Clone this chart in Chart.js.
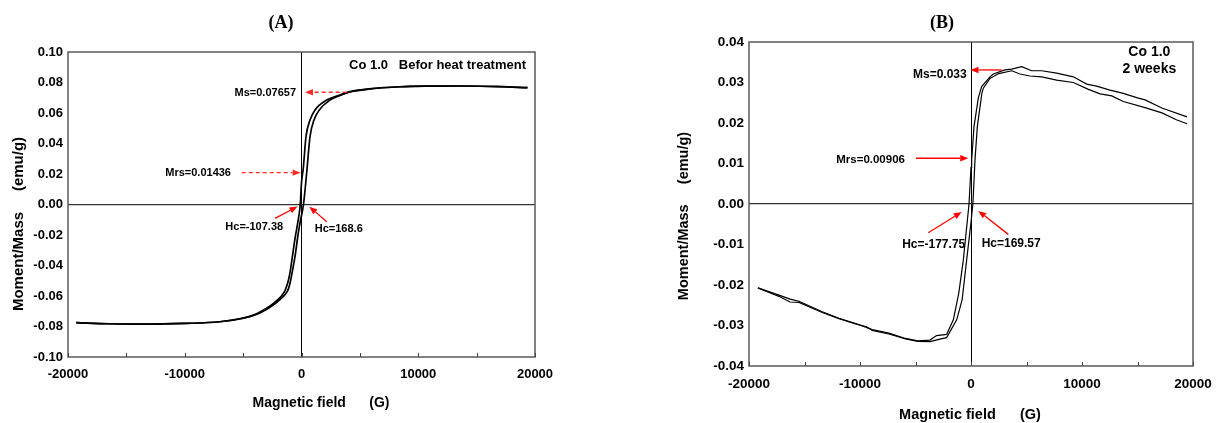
<!DOCTYPE html>
<html><head><meta charset="utf-8">
<script src="https://cdn.jsdelivr.net/npm/chart.js@4/dist/chart.umd.min.js"></script>
<style>
html,body{margin:0;padding:0;background:#fff;width:1216px;height:423px;overflow:hidden}
.box{position:absolute;top:0;width:608px;height:423px}
</style></head><body>
<div class="box" style="left:0"><canvas id="cA"></canvas></div>
<div class="box" style="left:608px"><canvas id="cB"></canvas></div>
<script>
// ---------- Panel A : Co 1.0 before heat treatment ----------
const fieldA_down  = [-19300,-16500,-13500,-10000,-7000,-5000,-4000,-3000,-2400,-1800,-1600,-1413,-1250,-1100,-950,-814,-550,-325,-107.38,0,150,385,730,1160,2160,3300,4150,6000,8440,11000,14000,17000,19360];
const momentA_down = [-0.0775,-0.0782,-0.0785,-0.0780,-0.0769,-0.0745,-0.0722,-0.0680,-0.0648,-0.0607,-0.0588,-0.0565,-0.0530,-0.0490,-0.0430,-0.0360,-0.0220,-0.0121,0,0.01436,0.0235,0.0445,0.0554,0.0620,0.0685,0.0718,0.0740,0.0760,0.0772,0.0776,0.0777,0.0773,0.0766];
const fieldA_up    = [-19300,-16500,-13500,-10000,-7000,-5000,-4000,-3000,-2400,-1800,-1400,-1130,-950,-800,-557,-300,-128,168.6,440,730,1070,1525,2440,3300,4150,6000,8440,11000,14000,17000,19360];
const momentA_up   = [-0.0775,-0.0782,-0.0785,-0.0780,-0.0769,-0.0746,-0.0725,-0.0688,-0.0658,-0.0620,-0.0590,-0.0555,-0.0505,-0.0445,-0.0342,-0.0200,-0.0121,0,0.0205,0.0445,0.0554,0.0620,0.0685,0.0715,0.0738,0.0759,0.0772,0.0776,0.0777,0.0773,0.0766];

// ---------- Panel B : Co 1.0 2 weeks ----------
const fieldB_down  = [-19200,-17300,-16300,-15500,-13400,-11900,-10400,-8900,-7400,-5900,-4800,-3700,-3100,-2200,-1590,-1100,-690,-177.75,0,60,270,660,960,1710,2010,3060,3670,4570,5470,6370,7720,9220,10420,11320,12520,13720,15000,15680,17200,19460];
const momentB_down = [-0.0207,-0.0225,-0.0235,-0.0240,-0.0266,-0.0282,-0.0295,-0.0310,-0.0319,-0.0332,-0.0338,-0.0336,-0.0325,-0.0322,-0.0286,-0.0220,-0.0138,0,0.00906,0.0109,0.0191,0.0262,0.0290,0.0314,0.0321,0.0331,0.0333,0.0339,0.0329,0.0329,0.0323,0.0314,0.0296,0.0291,0.0281,0.0273,0.0262,0.0257,0.0237,0.0215];
const fieldB_up    = [-19200,-17300,-16300,-15500,-13400,-11900,-10400,-9400,-8900,-7400,-5900,-4800,-3700,-2700,-2200,-1290,-800,-390,0,169.57,360,570,980,1110,1710,2500,3670,4410,5310,6370,7720,9220,10580,11630,12680,13720,15680,17200,18500,19460];
const momentB_up   = [-0.0207,-0.0228,-0.0242,-0.0243,-0.0268,-0.0283,-0.0296,-0.0303,-0.0312,-0.0321,-0.0333,-0.0339,-0.0340,-0.0333,-0.0330,-0.0286,-0.0237,-0.0138,-0.0045,0,0.0109,0.0191,0.0273,0.0286,0.0310,0.0322,0.0329,0.0321,0.0316,0.0314,0.0306,0.0300,0.0283,0.0272,0.0267,0.0253,0.0238,0.0225,0.0208,0.0198];

// annotation texts (data coordinates)
const notesA = [
  {t:'Co 1.0   Befor heat treatment', x:19230, y:0.0915, align:'right', size:13},
  {t:'Ms=0.07657', x:-470, y:0.0729, align:'right', size:11},
  {t:'Mrs=0.01436', x:-6040, y:0.0205, align:'right', size:11},
  {t:'Hc=-107.38', x:-4050, y:-0.0150, align:'center', size:11},
  {t:'Hc=168.6', x:3190, y:-0.0161, align:'center', size:11}
];
const arrowsA = [
  {x1:3870, y1:0.0736, x2:300, y2:0.0736, dashed:true},
  {x1:-5120, y1:0.0209, x2:-70, y2:0.0209, dashed:true},
  {x1:-2270, y1:-0.0091, x2:-340, y2:-0.0013, dashed:false},
  {x1:2160, y1:-0.0113, x2:670, y2:-0.0014, dashed:false}
];
const notesB = [
  {t:'Co 1.0', x:16070, y:0.0374, align:'center', size:14},
  {t:'2 weeks', x:16070, y:0.0333, align:'center', size:14},
  {t:'Ms=0.033', x:-390, y:0.0319, align:'right', size:12},
  {t:'Mrs=0.00906', x:-5950, y:0.0109, align:'right', size:11.5},
  {t:'Hc=-177.75', x:-3360, y:-0.0101, align:'center', size:12},
  {t:'Hc=169.57', x:3620, y:-0.0097, align:'center', size:12}
];
const arrowsB = [
  {x1:2770, y1:0.0331, x2:-45, y2:0.0331, dashed:false},
  {x1:-4955, y1:0.0113, x2:-245, y2:0.0113, dashed:false},
  {x1:-3850, y1:-0.0071, x2:-840, y2:-0.0020, dashed:false},
  {x1:3360, y1:-0.0075, x2:660, y2:-0.0017, dashed:false}
];

const SANS = '"Liberation Sans", Arial, sans-serif';
const pts = (xs, ys) => xs.map((v,i)=>({x:v, y:ys[i]}));

function drawArrow(ctx, x1,y1,x2,y2,dashed){
  const col = dashed ? '#ff2a2a' : '#ff0000';
  const ang = Math.atan2(y2-y1, x2-x1), L=8, W=3.2;
  const bx = x2 - L*Math.cos(ang), by = y2 - L*Math.sin(ang);
  ctx.strokeStyle=col; ctx.fillStyle=col; ctx.lineWidth=1.3;
  ctx.setLineDash(dashed ? [4,3] : []);
  ctx.beginPath(); ctx.moveTo(x1,y1); ctx.lineTo(bx,by); ctx.stroke();
  ctx.setLineDash([]);
  ctx.beginPath(); ctx.moveTo(x2,y2);
  ctx.lineTo(bx - W*Math.sin(ang), by + W*Math.cos(ang));
  ctx.lineTo(bx + W*Math.sin(ang), by - W*Math.cos(ang));
  ctx.closePath(); ctx.fill();
}

function decoPlugin(c){
  return {
    id:'deco',
    afterDraw(chart){
      const {ctx, chartArea:a} = chart;
      const xs = chart.scales.x, ys = chart.scales.y;
      ctx.save();
      // frame
      ctx.strokeStyle='#5a5a5a'; ctx.lineWidth=1.5;
      ctx.strokeRect(a.left, a.top, a.right-a.left, a.bottom-a.top);
      // inward ticks on x axis
      ctx.strokeStyle='#444'; ctx.lineWidth=1;
      xs.ticks.forEach(t=>{
        const px = Math.round(xs.getPixelForValue(t.value))+0.5;
        ctx.beginPath(); ctx.moveTo(px, a.bottom); ctx.lineTo(px, a.bottom-4); ctx.stroke();
      });
      ctx.fillStyle='#000';
      // panel title
      ctx.font = 'bold 18px "Liberation Serif", "Times New Roman", serif';
      ctx.textAlign='center'; ctx.textBaseline='middle';
      ctx.fillText(c.panel, c.panelX, c.panelY);
      // x title
      ctx.font = 'bold '+c.xTitleSize+'px '+SANS;
      ctx.fillText('Magnetic field      (G)', c.xTitleX, c.xTitleY);
      // y title
      ctx.save();
      ctx.translate(c.yTitleX, c.yTitleY); ctx.rotate(-Math.PI/2);
      ctx.font = 'bold '+c.yTitleSize+'px '+SANS;
      ctx.fillText('Moment/Mass     (emu/g)', 0, 0);
      ctx.restore();
      // annotation texts
      c.notes.forEach(n=>{
        ctx.font = 'bold '+n.size+'px '+SANS;
        ctx.textAlign = n.align; ctx.textBaseline='middle'; ctx.fillStyle='#000';
        ctx.fillText(n.t, xs.getPixelForValue(n.x), ys.getPixelForValue(n.y));
      });
      c.arrows.forEach(r=>{
        drawArrow(ctx, xs.getPixelForValue(r.x1), ys.getPixelForValue(r.y1),
                       xs.getPixelForValue(r.x2), ys.getPixelForValue(r.y2), r.dashed);
      });
      ctx.restore();
    }
  };
}

function makeChart(id, c){
  return new Chart(document.getElementById(id), {
    type:'scatter',
    data:{datasets:[
      {data:pts(c.f1,c.m1), showLine:true, pointRadius:0, borderColor:'#000', borderWidth:c.lw, cubicInterpolationMode:c.mono?'monotone':'default', tension:0},
      {data:pts(c.f2,c.m2), showLine:true, pointRadius:0, borderColor:'#000', borderWidth:c.lw, cubicInterpolationMode:c.mono?'monotone':'default', tension:0}
    ]},
    options:{
      responsive:true, maintainAspectRatio:false, animation:false, devicePixelRatio:1,
      layout:{padding:{top:c.padTop, right:c.padRight, left:0, bottom:0}},
      plugins:{legend:{display:false}, tooltip:{enabled:false}},
      scales:{
        x:{type:'linear', min:-20000, max:20000,
           afterFit:s=>{s.height=c.xH; s.paddingLeft=0; s.paddingRight=0;},
           border:{display:false},
           grid:{drawTicks:false, lineWidth:1, color:ctx=>ctx.tick && ctx.tick.value===0 ? '#000' : 'rgba(0,0,0,0)'},
           ticks:{stepSize:5000, autoSkip:false, maxRotation:0, padding:10, color:'#000',
                  font:{family:SANS, weight:'bold', size:c.tickSize},
                  callback:v=> (v % 10000 === 0) ? String(v) : ''}},
        y:{type:'linear', min:c.ymin, max:c.ymax,
           afterFit:s=>{s.width=c.yW;},
           border:{display:false},
           grid:{drawTicks:false, lineWidth:1.2, color:ctx=>ctx.tick && Math.abs(ctx.tick.value)<1e-9 ? '#333' : 'rgba(0,0,0,0)'},
           ticks:{stepSize:c.ystep, padding:5, color:'#000',
                  font:{family:SANS, weight:'bold', size:c.tickSize},
                  callback:v=> Math.abs(v)<1e-9 ? '0.00' : v.toFixed(2)}}
      }
    },
    plugins:[decoPlugin(c)]
  });
}

makeChart('cA', {
  f1:fieldA_down, m1:momentA_down, f2:fieldA_up, m2:momentA_up, lw:1.7, mono:true,
  ymin:-0.10, ymax:0.10, ystep:0.02, padTop:52, padRight:73, xH:66, yW:68, tickSize:13,
  panel:'(A)', panelX:281, panelY:23, xTitleX:321, xTitleY:403, xTitleSize:14,
  yTitleX:19, yTitleY:224, yTitleSize:15, notes:notesA, arrows:arrowsA
});
makeChart('cB', {
  f1:fieldB_down, m1:momentB_down, f2:fieldB_up, m2:momentB_up, lw:1.2, mono:false,
  ymin:-0.04, ymax:0.04, ystep:0.01, padTop:42, padRight:23, xH:57, yW:141, tickSize:13.5,
  panel:'(B)', panelX:334, panelY:23, xTitleX:362, xTitleY:415, xTitleSize:14.5,
  yTitleX:76, yTitleY:216, yTitleSize:14.5, notes:notesB, arrows:arrowsB
});
</script>
</body></html>
